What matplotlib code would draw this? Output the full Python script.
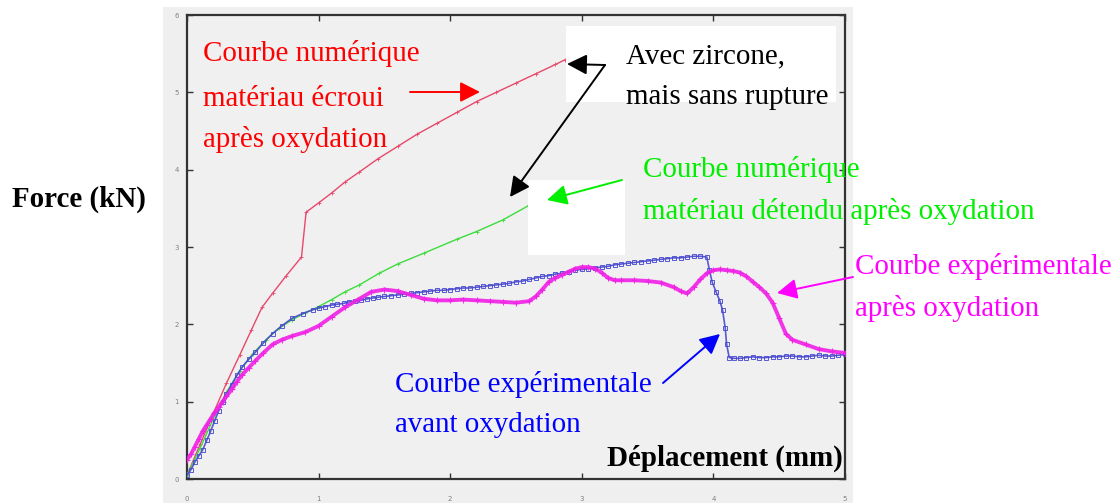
import matplotlib
matplotlib.use("Agg")
import matplotlib.pyplot as plt
from matplotlib.patches import Rectangle, FancyArrowPatch

# --- data: force (kN) vs displacement (mm) ---
ecroui_x = [0.00, 0.10, 0.20, 0.30, 0.40, 0.49, 0.57, 0.65, 0.75, 0.87, 0.905, 1.00, 1.10,
            1.20, 1.31, 1.45, 1.60, 1.75, 1.90, 2.05, 2.20, 2.35, 2.50, 2.65, 2.80, 2.87]
ecroui_y = [0.05, 0.45, 0.85, 1.24, 1.60, 1.93, 2.22, 2.40, 2.62, 2.87, 3.45, 3.57, 3.70,
            3.84, 3.97, 4.14, 4.30, 4.46, 4.60, 4.74, 4.88, 5.00, 5.12, 5.24, 5.36, 5.42]

detendu_x = [0.00, 0.10, 0.20, 0.30, 0.40, 0.50, 0.60, 0.70, 0.80, 0.90, 1.00, 1.10, 1.20,
             1.31, 1.46, 1.60, 1.80, 2.05, 2.20, 2.40, 2.60, 2.75, 2.85]
detendu_y = [0.05, 0.40, 0.78, 1.12, 1.40, 1.62, 1.80, 1.95, 2.06, 2.15, 2.23, 2.32, 2.42,
             2.51, 2.66, 2.78, 2.92, 3.10, 3.20, 3.35, 3.54, 3.66, 3.75]

avant_x = [0.00, 0.03, 0.06, 0.09, 0.12, 0.15, 0.18, 0.21, 0.24, 0.27, 0.30, 0.34, 0.38,
           0.42, 0.47, 0.52, 0.58, 0.65, 0.72, 0.80, 0.88, 0.96, 1.00, 1.05, 1.10, 1.14,
           1.19, 1.23, 1.28, 1.32, 1.37, 1.41, 1.45, 1.50, 1.55, 1.60, 1.65, 1.70, 1.75,
           1.80, 1.85, 1.90, 1.95, 2.00, 2.05, 2.10, 2.15, 2.20, 2.25, 2.30, 2.35, 2.40,
           2.45, 2.50, 2.55, 2.60, 2.65, 2.70, 2.75, 2.80, 2.85, 2.90, 2.95, 3.00, 3.05,
           3.10, 3.15, 3.20, 3.25, 3.30, 3.35, 3.40, 3.45, 3.50, 3.55, 3.60, 3.65, 3.70,
           3.75, 3.80, 3.85, 3.90, 3.95, 3.97, 3.99, 4.02, 4.05, 4.07, 4.09, 4.10, 4.12,
           4.16, 4.20, 4.25, 4.30, 4.35, 4.40, 4.45, 4.50, 4.55, 4.60, 4.65, 4.70, 4.75,
           4.80, 4.85, 4.90, 4.95, 5.00]
avant_y = [0.05, 0.12, 0.22, 0.30, 0.38, 0.50, 0.62, 0.75, 0.88, 1.00, 1.10, 1.22, 1.34,
           1.45, 1.55, 1.64, 1.76, 1.88, 1.98, 2.08, 2.14, 2.19, 2.21, 2.23, 2.25, 2.26,
           2.27, 2.29, 2.30, 2.31, 2.33, 2.34, 2.35, 2.36, 2.37, 2.38, 2.39, 2.40, 2.41,
           2.42, 2.43, 2.44, 2.44, 2.45, 2.46, 2.47, 2.47, 2.48, 2.49, 2.50, 2.51, 2.52,
           2.53, 2.55, 2.56, 2.58, 2.60, 2.62, 2.63, 2.65, 2.66, 2.68, 2.70, 2.71, 2.72,
           2.73, 2.74, 2.75, 2.77, 2.78, 2.79, 2.80, 2.81, 2.82, 2.83, 2.84, 2.85, 2.86,
           2.86, 2.87, 2.88, 2.88, 2.87, 2.70, 2.55, 2.42, 2.30, 2.18, 1.95, 1.75, 1.57,
           1.56, 1.56, 1.57, 1.58, 1.57, 1.57, 1.58, 1.58, 1.59, 1.59, 1.58, 1.58, 1.59,
           1.60, 1.59, 1.59, 1.60, 1.61]

apres_x = [0.00, 0.03, 0.06, 0.09, 0.12, 0.15, 0.18, 0.21, 0.24, 0.27, 0.30, 0.34, 0.38,
           0.42, 0.47, 0.52, 0.58, 0.65, 0.72, 0.80, 0.90, 1.00, 1.10, 1.20, 1.30, 1.40,
           1.50, 1.60, 1.70, 1.80, 1.90, 2.00, 2.10, 2.20, 2.30, 2.40, 2.50, 2.60, 2.65,
           2.70, 2.75, 2.80, 2.85, 2.90, 2.95, 3.00, 3.05, 3.10, 3.15, 3.20, 3.25, 3.30,
           3.40, 3.50, 3.60, 3.70, 3.75, 3.80, 3.85, 3.90, 3.95, 4.00, 4.05, 4.10, 4.15,
           4.20, 4.25, 4.30, 4.35, 4.40, 4.45, 4.50, 4.55, 4.60, 4.70, 4.80, 4.90, 5.00]
apres_y = [0.25, 0.32, 0.42, 0.52, 0.62, 0.70, 0.78, 0.86, 0.93, 1.00, 1.07, 1.16, 1.26,
           1.35, 1.44, 1.53, 1.63, 1.74, 1.80, 1.85, 1.90, 1.98, 2.10, 2.22, 2.32, 2.42,
           2.45, 2.43, 2.38, 2.33, 2.31, 2.31, 2.32, 2.31, 2.30, 2.29, 2.28, 2.30, 2.36,
           2.45, 2.55, 2.60, 2.64, 2.68, 2.72, 2.74, 2.74, 2.72, 2.67, 2.60, 2.57, 2.57,
           2.57, 2.56, 2.54, 2.48, 2.43, 2.40, 2.48, 2.58, 2.66, 2.70, 2.71, 2.70, 2.69,
           2.67, 2.62, 2.55, 2.48, 2.40, 2.28, 2.08, 1.88, 1.80, 1.74, 1.68, 1.65, 1.63]

x_ticks = [0, 1, 2, 3, 4, 5]
y_ticks = [0, 1, 2, 3, 4, 5, 6]

# --- layout helpers (pixel positions on a 1120 x 503 canvas, y from top) ---
W, H = 1120, 503


def fp(x, y):
    return (x / W, 1 - y / H)


fig = plt.figure(figsize=(W / 100, H / 100), dpi=100)
fig.patch.set_facecolor("white")

# grey backdrop of the embedded plot
fig.patches.append(Rectangle(fp(163, 503), (853 - 163) / W, (503 - 7) / H,
                             transform=fig.transFigure, facecolor="#efefef",
                             edgecolor="none", zorder=-5))

ax = fig.add_axes([187 / W, 1 - 479 / H, (845 - 187) / W, (479 - 15) / H])
ax.set_facecolor("#f0f0f0")

ax.plot(ecroui_x, ecroui_y, color="#e8486c", lw=1.0, marker="+", ms=3, mew=0.6, zorder=3)
ax.plot(detendu_x, detendu_y, color="#3ddc3d", lw=1.0, marker="+", ms=3, mew=0.6, zorder=3)
ax.plot(avant_x, avant_y, color="#4848d0", lw=1.2, marker="s", ms=3.5, mfc="none",
        mew=0.7, alpha=0.9, zorder=4)
ax.plot(apres_x, apres_y, color="#f020e6", lw=2.8, marker="+", ms=4.5, mew=0.8,
        alpha=0.9, zorder=5)

ax.set_xlim(0, 5)
ax.set_ylim(0, 6)
ax.set_xticks(x_ticks)
ax.set_yticks(y_ticks)
ax.tick_params(direction="in", length=4, width=1, top=True, right=True,
               labelsize=5, labelcolor="#808080", color="#333333")
ax.tick_params(axis="x", pad=12)
ax.tick_params(axis="y", pad=6)
for s in ax.spines.values():
    s.set_color("#333333")
    s.set_linewidth(1.6)

# white masks
for (x0, y0, x1, y1) in [(566, 26, 836, 102), (528, 180, 625, 255)]:
    fig.patches.append(Rectangle(fp(x0, y1), (x1 - x0) / W, (y1 - y0) / H,
                                 transform=fig.transFigure, facecolor="white",
                                 edgecolor="none", zorder=2))

FONT = "Liberation Serif"
FS = 20.9


def label(x, y, s, color, weight="normal", ha="left"):
    fig.text(*fp(x, y), s, color=color, fontsize=FS, family=FONT, weight=weight,
             ha=ha, va="baseline", zorder=6)


def arrow(tail, head, color):
    fig.add_artist(FancyArrowPatch(
        fp(*tail), fp(*head), transform=fig.transFigure,
        arrowstyle="-|>,head_length=0.55,head_width=0.28", mutation_scale=22,
        color=color, lw=1.4, shrinkA=0, shrinkB=0, zorder=7))


label(203, 61, "Courbe numérique", "#ff0000")
label(203, 106, "matériau écroui", "#ff0000")
label(203, 147, "après oxydation", "#ff0000")
arrow((410, 92), (480, 92), "#ff0000")

label(626, 63, "Avec zircone,", "black")
label(626, 104, "mais sans rupture", "black")
arrow((605, 65), (567, 64), "black")
arrow((605, 65), (510, 197), "black")

label(643, 177, "Courbe numérique", "#00ee00")
label(643, 219, "matériau détendu après oxydation", "#00ee00")
arrow((622, 180), (547, 200), "#00ee00")

label(855, 274, "Courbe expérimentale", "#ff00ff")
label(855, 316, "après oxydation", "#ff00ff")
arrow((853, 277), (777, 293), "#ff00ff")

label(395, 392, "Courbe expérimentale", "#0000ff")
label(395, 432, "avant oxydation", "#0000ff")
arrow((663, 383), (720, 334), "#0000ff")

label(843, 466, "Déplacement (mm)", "black", weight="bold", ha="right")
label(12, 207, "Force (kN)", "black", weight="bold")

fig.savefig("out.png", dpi=100)
